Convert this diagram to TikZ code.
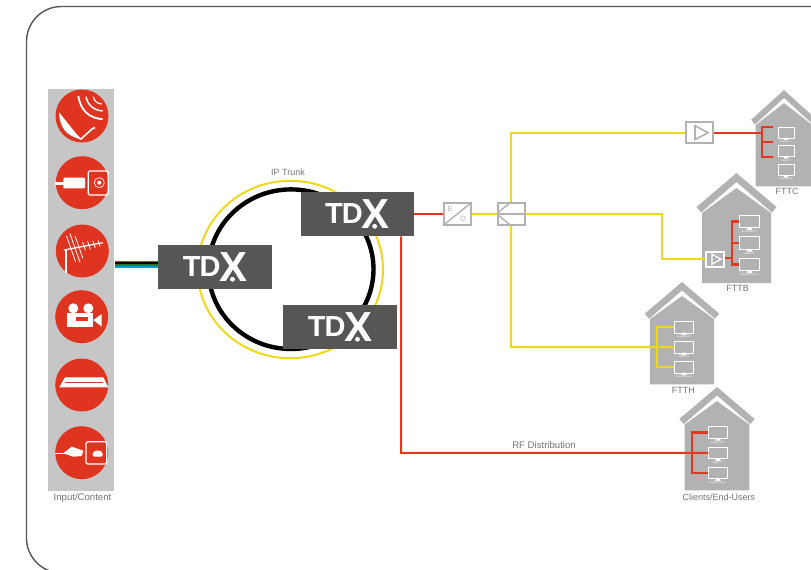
\documentclass[tikz,border=0pt]{standalone}
\usepackage{fontspec}
\setmainfont{Liberation Sans}
\definecolor{framegrey}{HTML}{555555}
\definecolor{panelgrey}{HTML}{C6C6C6}
\definecolor{housegrey}{HTML}{B2B2B2}
\definecolor{tdxgrey}{HTML}{575654}
\definecolor{textgrey}{HTML}{737373}
\definecolor{inputred}{HTML}{DF3420}
\definecolor{wirered}{HTML}{E1381F}
\definecolor{wireyellow}{HTML}{EFD81A}
\definecolor{cableblue}{HTML}{00A0E0}
\definecolor{cablegreen}{HTML}{1E7A3C}
\newcommand{\tdxtext}{\bfseries\fontsize{29}{29}\selectfont T\kern-1pt D\kern-1.5pt\raisebox{-5pt}{\fontsize{42}{42}\selectfont X}}
\tikzset{
  inputdot/.style={circle,fill=inputred,inner sep=0pt,minimum size=53pt},
  tdxbox/.style={fill=tdxgrey,text=white,inner sep=0pt,minimum width=113.4pt,minimum height=44.5pt},
  caption/.style={text=textgrey,inner sep=0pt,font=\fontsize{9}{9}\selectfont},
  redline/.style={draw=wirered,line width=2pt},
  yellowline/.style={draw=wireyellow,line width=2.2pt},
  greybox/.style={draw=housegrey,fill=white,line width=2pt,inner sep=0pt,minimum width=27pt,minimum height=21.5pt},
  tvscreen/.style={draw=white,line width=.8pt,inner sep=0pt,minimum width=19.5pt,minimum height=12.5pt,transform shape},
  tvtext/.style={text=white,inner sep=0pt,font=\fontsize{2.6}{3}\selectfont,transform shape},
  pics/house/.style={code={
    \fill[housegrey] (-34.5,40) -- (0,15) -- (34.5,40) -- (34.5,110) -- (-34.5,110) -- cycle;
    \fill[housegrey] (-40,34) -- (0,0) -- (40,34) -- (35.5,39.5) -- (0,9) -- (-35.5,39.5) -- cycle;
    \foreach \tvname/\tvy/\tvlabel in {tva/48.5/Analogue TV,tvb/70/Digital TV,tvc/91.5/Digital Receiver} {
      \node[tvscreen] (-\tvname) at (#1,\tvy) {};
      \fill[white] (#1-3,\tvy+8.5) -- (#1-1.5,\tvy+6) -- (#1+1.5,\tvy+6) -- (#1+3,\tvy+8.5) -- cycle;
      \node[tvtext] (-\tvname text) at (#1,\tvy+10.5) {\tvlabel};
    }
  }}
}
\begin{document}
\begin{tikzpicture}[x=1pt,y=-1pt]
  \useasboundingbox (0,0) rectangle (811,570);
  \clip (0,0) rectangle (811,570);
  \draw[framegrey,line width=1.4pt,rounded corners=35pt] (26.5,6.5) rectangle (870,573);

  \node[fill=panelgrey,inner sep=0pt,minimum width=66pt,minimum height=402pt] (inputpanel) at (81.3,290) {};
  \node[caption,font=\fontsize{9.6}{10}\selectfont] (inputcaption) at (82.5,498) {Input/Content};
  \node[inputdot] (dishdot) at (82,116) {};
  \node[inputdot] (coaxdot) at (82.3,182.7) {};
  \node[inputdot] (aerialdot) at (82.3,251) {};
  \node[inputdot] (cameradot) at (81.7,316.7) {};
  \node[inputdot] (stbdot) at (81.7,385) {};
  \node[inputdot] (ethdot) at (81.7,452.7) {};

  \fill[white] (59,112.3) .. controls (60,130) and (68,136) .. (80.7,139.3) -- cycle;
  \draw[white,line width=1.6pt] (80.7,139.3) -- (92,129) -- (95,127.5);
  \draw[white,line width=1.6pt] (76,135) -- (80.7,139.3);
  \draw[white,line width=1.8pt] (78.3,96) .. controls (81,112) and (90,118) .. (102.7,119.3);
  \draw[white,line width=1.5pt] (86,96.7) .. controls (88,106) and (94,110) .. (102.7,111);
  \draw[white,line width=1.2pt] (93.3,96.7) .. controls (94,101) and (97,103.5) .. (101.7,104);

  \fill[white] (55,182) rectangle (64,184.5);
  \fill[white,rounded corners=1pt] (63.3,177.7) rectangle (85,188.3);
  \draw[white,line width=1.3pt,rounded corners=1.5pt] (88.3,171) rectangle (108.3,195);
  \draw[white,line width=.7pt] (99.3,182.7) circle (5);
  \fill[white] (99.3,182.7) circle (2);

  \draw[white,line width=1.2pt] (66,272.7) -- (66,250);
  \draw[white,line width=1.2pt] (64,250) -- (102.7,242.7);
  \foreach \elx/\ellen in {71/13,75/14.5,79/11,84/4,89/4,94/3.5,99/3} {
    \draw[white,line width=.8pt] (\elx-.35*\ellen,262.2-.19*\elx-\ellen) -- (\elx+.35*\ellen,262.2-.19*\elx+\ellen);
  }

  \fill[white] (66.7,313.3) rectangle (93.3,327.3);
  \fill[white] (73.3,308.3) circle (5);
  \fill[white] (88.3,308.3) circle (5);
  \fill[white] (93.3,320) -- (101.7,314) -- (101.7,326.7) -- cycle;
  \fill[inputred] (76,316.7) rectangle (88.3,320.7);

  \fill[white] (59.3,387.3) -- (65,377.3) -- (103.3,377.3) -- (108.3,387.3) -- cycle;
  \fill[inputred] (65,381.5) rectangle (103,382.8);

  \draw[white,line width=1.4pt] (55,453.3) -- (65,453.3);
  \fill[white] (63.3,453.3) -- (71.7,446.7) -- (83.3,450.7) -- (81.7,456) -- (73.3,456.7) -- cycle;
  \draw[white,line width=1.3pt,rounded corners=1.5pt] (86,441.7) rectangle (106.7,464);
  \fill[white,rounded corners=1.5pt] (92.7,456.7) -- (92.7,452.5) -- (95,450.7) -- (100.5,450.7) -- (102.7,452.5) -- (102.7,456.7) -- cycle;

  \draw[wireyellow,line width=2pt] (290.3,269.5) ellipse [x radius=92.7,y radius=88.7];
  \draw[black,line width=4.4pt] (291,269.2) ellipse [x radius=82.5,y radius=79.8];
  \node[caption] (trunkcaption) at (288,172) {IP Trunk};

  \node[tdxbox] (tdxa) at (357.2,213.8) {\tdxtext};
  \node[tdxbox] (tdxb) at (215,266.8) {\tdxtext};
  \node[tdxbox] (tdxc) at (340,326.8) {\tdxtext};
  \foreach \tdxname in {tdxa,tdxb,tdxc} {
    \fill[white] ([shift={(17.5,12.5)}]\tdxname.center) circle (2.4);
  }

  \foreach \cablecol/\cabley in {wirered/261.6,black/263.2,cablegreen/264.8,cableblue/266.7} {
    \draw[\cablecol,line width=2pt] (inputpanel.east |- 0,\cabley) -- (tdxb.west |- 0,\cabley);
  }

  \node[greybox] (eoconv) at (457.5,213.8) {};
  \draw[housegrey,line width=1.4pt] (eoconv.north east) -- (eoconv.south west);
  \node[caption,text=housegrey,font=\fontsize{7.5}{8}\selectfont] (eoe) at (450,209.3) {E};
  \node[caption,text=housegrey,font=\fontsize{7.5}{8}\selectfont] (eoo) at (463,219.3) {O};
  \node[greybox] (splitter) at (511,213.8) {};
  \draw[housegrey,line width=1.4pt] (splitter.north) -- (splitter.west) -- (splitter.south);
  \draw[housegrey,line width=1.4pt] (splitter.west) -- (splitter.east);

  \pic[xscale=.82,yscale=.875] (fttc) at (784,90) {house=2.4};
  \pic (fttb) at (736.5,173) {house=13};
  \pic[scale=.93] (ftth) at (682,282) {house=2};
  \pic[scale=.94] (clients) at (717,387) {house=1};
  \node[caption] (fttccaption) at (787,191) {FTTC};
  \node[caption] (fttbcaption) at (737.7,288.3) {FTTB};
  \node[caption] (ftthcaption) at (683.3,390.7) {FTTH};
  \node[caption] (clientscaption) at (718.8,497.7) {Clients/End-Users};

  \node[greybox] (fttcamp) at (699,132.7) {};
  \draw[housegrey,line width=1.6pt] ([shift={(-4,-7)}]fttcamp.center) -- ([shift={(9,0)}]fttcamp.center) -- ([shift={(-4,7)}]fttcamp.center) -- cycle;
  \node[draw=white,fill=housegrey,line width=1.6pt,inner sep=0pt,minimum width=18pt,minimum height=15pt] (fttbamp) at (715,259.2) {};
  \draw[white,line width=1.3pt] ([shift={(-3,-5)}]fttbamp.center) -- ([shift={(6,0)}]fttbamp.center) -- ([shift={(-3,5)}]fttbamp.center) -- cycle;

  \coordinate (fttcbus) at (762,132.7);
  \coordinate (fttca) at (773,127);
  \coordinate (fttcb) at (773,142);
  \coordinate (fttcc) at (773,157);
  \coordinate (fttbturn) at (661.7,259.2);
  \coordinate (fttbbus) at (731.7,258);
  \coordinate (ftthturn) at (511,346.9);
  \coordinate (ftthbus) at (657,346.9);
  \coordinate (clientsbus) at (692,452.8);
  \coordinate (rfturn) at (401,452.8);

  \draw[redline] (tdxa.east) -- (eoconv.west);
  \draw[yellowline] (eoconv.east) -- (splitter.west);
  \draw[yellowline] (splitter.north) |- (fttcamp.west);
  \draw[yellowline] (splitter.east) -| (fttbturn) -- (fttbamp.west);
  \draw[yellowline] (splitter.south) -- (ftthturn) -- (ftth-tvb.west);
  \draw[redline] (fttcamp.east) -- (fttcbus);
  \draw[redline,line width=2.2pt] (fttca) -| (fttcbus) |- (fttcc);
  \draw[redline,line width=2.2pt] (fttcb) -- (fttcb -| fttcbus);
  \draw[redline] (fttbamp.east |- fttbbus) -- (fttbbus);
  \draw[redline,line width=2.2pt] (fttb-tva.west) -| (fttbbus) |- (fttb-tvc.west);
  \draw[redline,line width=2.2pt] (fttb-tvb.west) -- (fttb-tvb.west -| fttbbus);
  \draw[yellowline] (ftth-tva.west) -| (ftthbus) |- (ftth-tvc.west);
  \draw[redline] (tdxa.south -| rfturn) -- (rfturn) -- (clients-tvb.west);
  \draw[redline,line width=2.2pt] (clients-tva.west) -| (clientsbus) |- (clients-tvc.west);
  \node[caption,font=\fontsize{9.6}{10}\selectfont] (rfcaption) at (544,445.5) {RF Distribution};
\end{tikzpicture}
\end{document}
